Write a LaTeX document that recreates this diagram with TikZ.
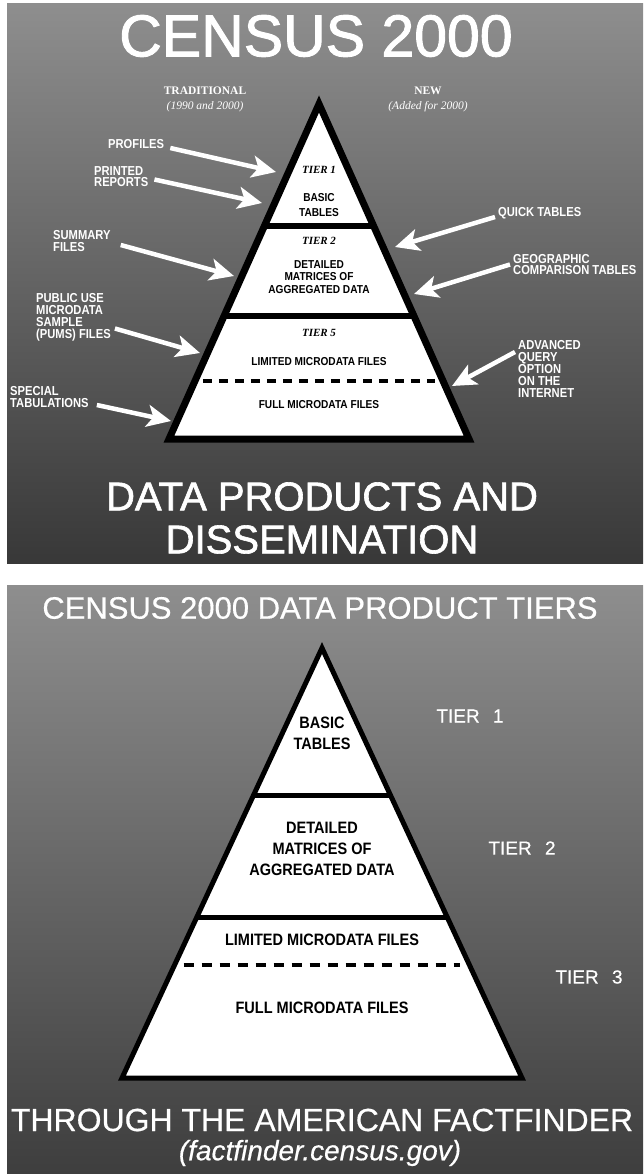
\documentclass[tikz,border=0pt]{standalone}
\usepackage{fontspec}
\setmainfont{Liberation Sans}
\newfontfamily\serifface{Liberation Serif}
\newfontfamily\narrowface[FakeStretch=0.88]{Liberation Sans}
\newfontfamily\lblface[FakeStretch=0.86]{Liberation Sans}
\newfontfamily\heavyface[FakeBold=1.6]{Liberation Sans}
\newfontfamily\softface[FakeBold=0.5]{Liberation Sans}
\usetikzlibrary{arrows.meta,calc}
\definecolor{paneltop}{HTML}{8E8E8E}
\definecolor{panelbot}{HTML}{383838}
\definecolor{panelbotB}{HTML}{3E3E3E}
\newcommand\lblfont{\lblface\fontsize{13}{11.8}\selectfont\bfseries}
\tikzset{
  lbl/.style={text=white, font=\lblfont, align=left, inner sep=0pt, anchor=west},
  warrow/.style={draw=white, line width=4.5pt, -{Stealth[length=24pt,width=22pt,inset=6pt]}},
  ptxt/.style={text=black, inner sep=0pt, align=center},
  ttl/.style={text=white, inner sep=0pt, align=center},
  pyr/.style={draw=black, fill=white, line join=miter},
  divider/.style={draw=black},
  dashdiv/.style={draw=black, line width=3.5pt, dash pattern=on 9pt off 7pt}
}
\begin{document}
\begin{tikzpicture}[x=1pt,y=-1pt]
\useasboundingbox (0,0) rectangle (643,1174);
\fill[white] (0,0) rectangle (643,1174);
% ---------- top panel ----------
\shade[top color=paneltop, bottom color=panelbot] (7,4) rectangle (643,563);
\node[ttl, font=\heavyface\fontsize{59}{59}\selectfont] (title) at (316,36) {CENSUS 2000};
\node[ttl, font=\serifface\fontsize{11.5}{15}\selectfont] (trad) at (205,99) {\textbf{TRADITIONAL}\\\textit{(1990 and 2000)}};
\node[ttl, font=\serifface\fontsize{11.5}{15}\selectfont] (new) at (428,99) {\textbf{NEW}\\\textit{(Added for 2000)}};
% pyramid
\coordinate (A) at (319,104);
\coordinate (BL) at (169,439);
\coordinate (BR) at (469,439);
\fill[white] (A) -- (BR) -- (BL) -- cycle;
\draw[divider, line width=6.5pt] ($(A)!0.364!(BL)$) -- ($(A)!0.364!(BR)$);
\draw[divider, line width=6.5pt] ($(A)!0.633!(BL)$) -- ($(A)!0.633!(BR)$);
\draw[dashdiv] ($(A)!0.827!(BL)+(8,0)$) -- ($(A)!0.827!(BR)+(-8,0)$);
\draw[pyr, fill=none, line width=7pt] (A) -- (BR) -- (BL) -- cycle;
\node[ptxt, font=\serifface\fontsize{11}{12}\selectfont\bfseries\itshape] (tier1) at (319,170) {TIER 1};
\node[ptxt, font=\narrowface\fontsize{11.5}{15}\selectfont\bfseries] (basic) at (319,205) {BASIC\\TABLES};
\node[ptxt, font=\serifface\fontsize{11}{12}\selectfont\bfseries\itshape] (tier2) at (319,241) {TIER 2};
\node[ptxt, font=\narrowface\fontsize{11.5}{12.5}\selectfont\bfseries] (detailed) at (319,277) {DETAILED\\MATRICES OF\\AGGREGATED DATA};
\node[ptxt, font=\serifface\fontsize{11}{12}\selectfont\bfseries\itshape] (tier5) at (319,333) {TIER 5};
\node[ptxt, font=\narrowface\fontsize{11.5}{12}\selectfont\bfseries] (limited) at (319,362) {LIMITED MICRODATA FILES};
\node[ptxt, font=\narrowface\fontsize{11.5}{12}\selectfont\bfseries] (full) at (319,405) {FULL MICRODATA FILES};
% left labels
\node[lbl] (profiles) at (108,144) {PROFILES};
\node[lbl] (printed) at (94,176.5) {PRINTED\\REPORTS};
\node[lbl] (summary) at (53,241) {SUMMARY\\FILES};
\node[lbl] (pums) at (36,317.5) {PUBLIC USE\\MICRODATA\\SAMPLE\\(PUMS) FILES};
\node[lbl] (special) at (10,397) {SPECIAL\\TABULATIONS};
% right labels
\node[lbl] (quick) at (498,213) {QUICK TABLES};
\node[lbl] (geo) at (513,264.5) {GEOGRAPHIC\\COMPARISON TABLES};
\node[lbl] (adv) at (518,369) {ADVANCED\\QUERY\\OPTION\\ON THE\\INTERNET};
% arrow tips on the pyramid
\coordinate (tProfiles) at (276,172);
\coordinate (tPrinted) at (262,203);
\coordinate (tSummary) at (234,276);
\coordinate (tPums) at (200,353);
\coordinate (tSpecial) at (171,421);
\coordinate (tQuick) at (395,247);
\coordinate (tGeo) at (414,294);
\coordinate (tAdv) at (452,386);
\draw[warrow] ([xshift=6pt,yshift=-4pt]profiles.east) -- (tProfiles);
\draw[warrow] ([xshift=6pt,yshift=-3pt]printed.east) -- (tPrinted);
\draw[warrow] ([xshift=10pt,yshift=-4pt]summary.east) -- (tSummary);
\draw[warrow] ([xshift=4pt,yshift=-11pt]pums.east) -- (tPums);
\draw[warrow] ([xshift=8pt,yshift=-8pt]special.east) -- (tSpecial);
\draw[warrow] ([xshift=-3pt,yshift=-4pt]quick.west) -- (tQuick);
\draw[warrow] ([xshift=-3pt,yshift=0pt]geo.west) -- (tGeo);
\draw[warrow] ([xshift=-3pt,yshift=17pt]adv.west) -- (tAdv);
\node[ttl, font=\heavyface\fontsize{40}{43}\selectfont] (dp) at (322,518) {DATA PRODUCTS AND\\DISSEMINATION};
% ---------- bottom panel ----------
\shade[top color=paneltop, bottom color=panelbotB] (7,585) rectangle (643,1174);
\node[ttl, font=\softface\fontsize{31}{31}\selectfont] (title2) at (320,608) {CENSUS 2000 DATA PRODUCT TIERS};
\coordinate (C) at (322,648);
\coordinate (CL) at (122,1078);
\coordinate (CR) at (522,1078);
\fill[white] (C) -- (CR) -- (CL) -- cycle;
\draw[divider, line width=5pt] ($(C)!0.342!(CL)$) -- ($(C)!0.342!(CR)$);
\draw[divider, line width=5pt] ($(C)!0.626!(CL)$) -- ($(C)!0.626!(CR)$);
\draw[dashdiv, line width=4pt, dash pattern=on 10pt off 8pt] ($(C)!0.737!(CL)+(9,0)$) -- ($(C)!0.737!(CR)+(-9,0)$);
\draw[pyr, fill=none, line width=5pt] (C) -- (CR) -- (CL) -- cycle;
\node[ptxt, font=\narrowface\fontsize{16.5}{21}\selectfont\bfseries] (basic2) at (322,733) {BASIC\\TABLES};
\node[ptxt, font=\narrowface\fontsize{16.5}{21}\selectfont\bfseries] (detailed2) at (322,849) {DETAILED\\MATRICES OF\\AGGREGATED DATA};
\node[ptxt, font=\narrowface\fontsize{16.5}{21}\selectfont\bfseries] (limited2) at (322,940) {LIMITED MICRODATA FILES};
\node[ptxt, font=\narrowface\fontsize{16.5}{21}\selectfont\bfseries] (full2) at (322,1008) {FULL MICRODATA FILES};
\node[ttl, font=\softface\fontsize{19}{19}\selectfont] (tierA) at (470,716) {TIER\hspace{0.7em}1};
\node[ttl, font=\softface\fontsize{19}{19}\selectfont] (tierB) at (522,848) {TIER\hspace{0.7em}2};
\node[ttl, font=\softface\fontsize{19}{19}\selectfont] (tierC) at (589,977) {TIER\hspace{0.7em}3};
\node[ttl, font=\softface\fontsize{32}{32}\selectfont] (through) at (322,1120) {THROUGH THE AMERICAN FACTFINDER};
\node[ttl, font=\softface\fontsize{28}{28}\selectfont\itshape] (ff) at (320,1153) {(factfinder.census.gov)};
\end{tikzpicture}
\end{document}
